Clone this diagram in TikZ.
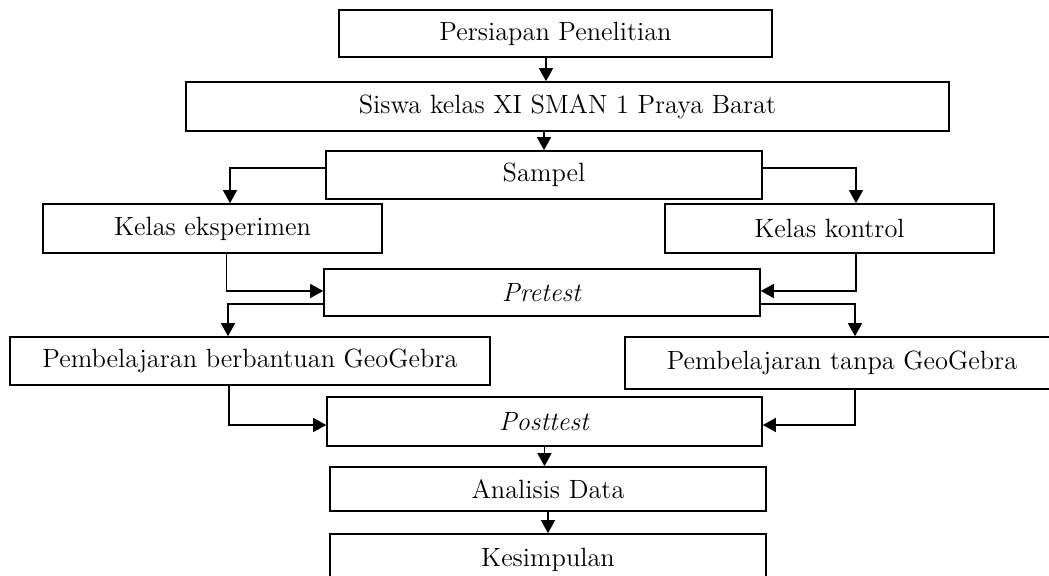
\documentclass[tikz,border=0pt]{standalone}
\usepackage{tikz}
\usetikzlibrary{arrows.meta,calc}
\tikzset{
  flow-box/.style={draw=black, line width=0.8pt, inner sep=0pt,
    font=\fontsize{13.2}{15}\selectfont, align=center},
  flow-arrow/.style={-{Triangle[length=6.5pt,width=7pt]}, line width=0.7pt, draw=black}
}
\begin{document}
\begin{tikzpicture}[x=0.5pt, y=-0.5pt]
\useasboundingbox (0,0) rectangle (1049,576);
\node[flow-box, minimum width=216.5pt, minimum height=23.5pt]
  (persiapan) at (555.5, 33.5) {Persiapan Penelitian};
\node[flow-box, minimum width=381.5pt, minimum height=24.5pt]
  (siswa) at (567.5, 106.5) {Siswa kelas XI SMAN 1 Praya Barat};
\node[flow-box, minimum width=218pt, minimum height=24pt]
  (sampel) at (544, 175) {Sampel};
\node[flow-box, minimum width=169.5pt, minimum height=24.5pt]
  (eksperimen) at (212.5, 228.5) {Kelas eksperimen};
\node[flow-box, minimum width=164.5pt, minimum height=24.5pt]
  (kontrol) at (829.5, 228.5) {Kelas kontrol};
\node[flow-box, minimum width=218pt, minimum height=23.5pt]
  (pretest) at (542, 292.5) {\textit{Pretest}};
\node[flow-box, minimum width=240pt, minimum height=24pt]
  (berbantuan) at (250, 361) {Pembelajaran berbantuan GeoGebra};
\node[flow-box, minimum width=217pt, minimum height=26pt]
  (tanpa) at (842, 363) {Pembelajaran tanpa GeoGebra};
\node[flow-box, minimum width=217.5pt, minimum height=24.5pt]
  (posttest) at (544.5, 421.5) {\textit{Posttest}};
\node[flow-box, minimum width=218pt, minimum height=22pt]
  (analisis) at (548, 489) {Analisis Data};
\node[flow-box, minimum width=218pt, minimum height=26pt]
  (kesimpulan) at (548, 560) {Kesimpulan};
\draw[flow-arrow] ([xshift=-4.75pt]persiapan.south) -- ([xshift=-4.75pt]persiapan.south |- siswa.north);
\draw[flow-arrow] (sampel.north |- siswa.south) -- (sampel.north);
\draw[flow-arrow] ([yshift=3.5pt]sampel.west) -| ([xshift=8.75pt]eksperimen.north);
\draw[flow-arrow] ([yshift=3.5pt]sampel.east) -| ([xshift=13.25pt]kontrol.north);
\draw[flow-arrow] ([xshift=7pt]eksperimen.south) |- ([yshift=0.75pt]pretest.west);
\draw[flow-arrow] ([xshift=13.25pt]kontrol.south) |- ([yshift=0.75pt]pretest.east);
\draw[flow-arrow] ([yshift=-5.75pt]pretest.west) -| ([xshift=-11pt]berbantuan.north);
\draw[flow-arrow] ([yshift=-5.75pt]pretest.east) -| ([xshift=6.5pt]tanpa.north);
\draw[flow-arrow] ([xshift=-10.5pt]berbantuan.south) |- ([yshift=-1.75pt]posttest.west);
\draw[flow-arrow] ([xshift=6.5pt]tanpa.south) |- ([yshift=-1.75pt]posttest.east);
\draw[flow-arrow] (posttest.south) -- (posttest.south |- analisis.north);
\draw[flow-arrow] (analisis.south) -- (analisis.south |- kesimpulan.north);
\end{tikzpicture}
\end{document}
